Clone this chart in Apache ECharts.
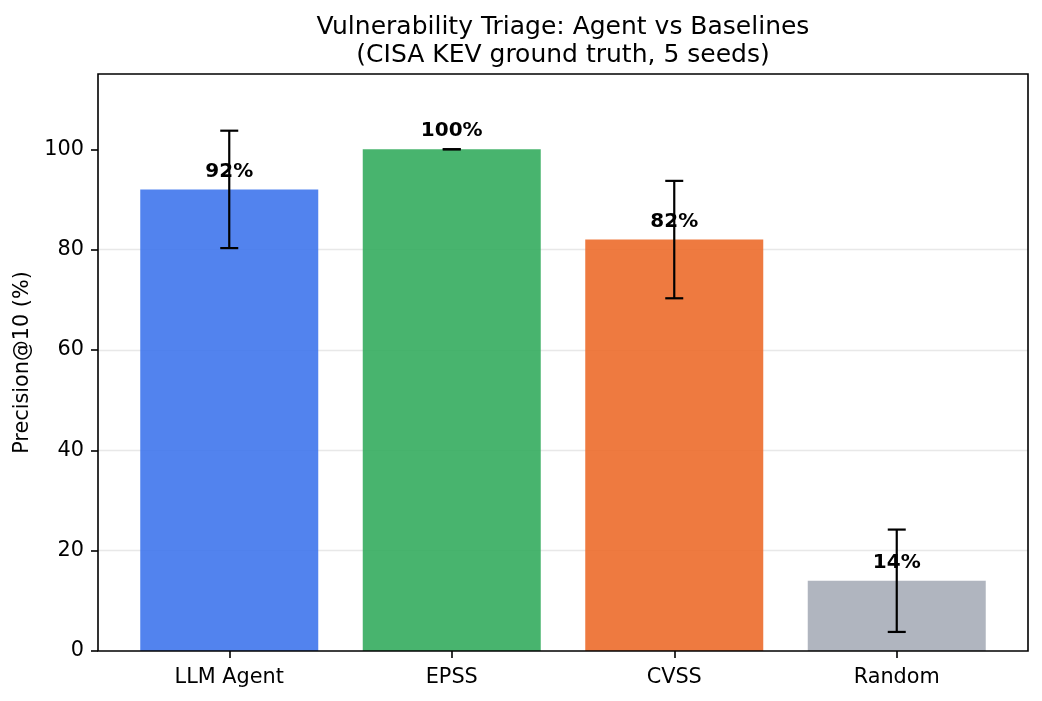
<!DOCTYPE html>
<html>
<head>
<meta charset="utf-8">
<script src="https://cdn.jsdelivr.net/npm/echarts@6/dist/echarts.min.js"></script>
<style>html,body{margin:0;padding:0;background:#fff;}#chart{width:1042px;height:701px;}</style>
</head>
<body>
<div id="chart"></div>
<script>
const categories = ['LLM Agent', 'EPSS', 'CVSS', 'Random'];
const precision = [92, 100, 82, 14];
const errLow = [80.3, 100, 70.3, 3.8];
const errHigh = [103.7, 100, 93.7, 24.2];
const barColors = ['rgba(63,117,236,0.9)', 'rgba(52,172,94,0.9)', 'rgba(236,108,43,0.9)', 'rgba(167,173,184,0.9)'];
const yTicks = [0, 20, 40, 60, 80, 100];

const chart = echarts.init(document.getElementById('chart'));
const FONT = 'DejaVu Sans';
const option = {
  backgroundColor: '#fff',
  animation: false,
  title: {
    text: 'Vulnerability Triage: Agent vs Baselines\n(CISA KEV ground truth, 5 seeds)',
    left: 558, textAlign: 'center', top: 8,
    textStyle: { fontFamily: FONT, fontSize: 25, fontWeight: 'normal', color: '#000', lineHeight: 28 }
  },
  grid: [
    { left: 118, right: 34, top: 74, bottom: 50 },
    { left: 98, right: 14, top: 74, bottom: 50, show: true, z: 10, borderColor: '#000', borderWidth: 1.6, backgroundColor: 'transparent' }
  ],
  xAxis: [
    { type: 'category', gridIndex: 0, data: categories,
      axisLine: { show: false },
      axisTick: { show: true, alignWithLabel: true, length: 7, lineStyle: { color: '#000', width: 1.6 } },
      axisLabel: { fontFamily: FONT, fontSize: 20.8, color: '#000', margin: 16 } },
    { type: 'value', gridIndex: 1, show: false, min: 0, max: 1 }
  ],
  yAxis: [
    { type: 'value', gridIndex: 0, min: 0, max: 115, show: false, splitLine: { show: false } },
    { type: 'value', gridIndex: 1, min: 0, max: 115, interval: 20,
      name: 'Precision@10 (%)', nameLocation: 'middle', nameGap: 62,
      nameTextStyle: { fontFamily: FONT, fontSize: 20.8, color: '#000' },
      axisLine: { show: false },
      axisTick: { show: true, length: 7, customValues: yTicks, lineStyle: { color: '#000', width: 1.6 } },
      axisLabel: { fontFamily: FONT, fontSize: 20.8, color: '#000', margin: 14, customValues: yTicks },
      splitLine: { show: true, showMinLine: false, showMaxLine: false, lineStyle: { color: '#e8e8e8', width: 1.3 } } }
  ],
  series: [
    { type: 'bar', xAxisIndex: 0, yAxisIndex: 0, barWidth: '80%', z: 2,
      data: precision.map((v, i) => ({ value: v, itemStyle: { color: barColors[i] } })),
      label: { show: true, position: 'top', distance: 8, formatter: '{c}%',
        fontFamily: FONT, fontSize: 20, fontWeight: 'bold', color: '#000' } },
    { type: 'custom', xAxisIndex: 0, yAxisIndex: 0, z: 5,
      data: categories.map((c, i) => [i, errLow[i], errHigh[i]]),
      renderItem: function (params, api) {
        const lo = api.coord([api.value(0), api.value(1)]);
        const hi = api.coord([api.value(0), api.value(2)]);
        const hw = 9;
        const st = { stroke: '#000', lineWidth: 2.2 };
        return { type: 'group', children: [
          { type: 'line', shape: { x1: lo[0], y1: lo[1], x2: hi[0], y2: hi[1] }, style: st },
          { type: 'line', shape: { x1: lo[0] - hw, y1: lo[1], x2: lo[0] + hw, y2: lo[1] }, style: st },
          { type: 'line', shape: { x1: hi[0] - hw, y1: hi[1], x2: hi[0] + hw, y2: hi[1] }, style: st }
        ] };
      } }
  ]
};
chart.setOption(option);
</script>
</body>
</html>
